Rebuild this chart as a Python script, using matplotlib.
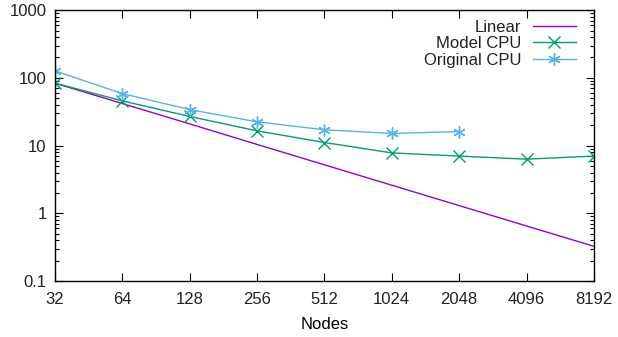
import matplotlib
matplotlib.use("Agg")
import matplotlib.pyplot as plt
from matplotlib.ticker import FixedLocator, FixedFormatter, LogLocator, NullFormatter, NullLocator

plt.rcParams["font.family"] = ["Liberation Sans", "DejaVu Sans"]
plt.rcParams["font.size"] = 12
plt.rcParams["text.color"] = "#222222"

# data
nodes = [32, 64, 128, 256, 512, 1024, 2048, 4096, 8192]
linear = [83.5, 41.75, 20.9, 10.4, 5.2, 2.6, 1.3, 0.65, 0.326]
model_cpu = [83.5, 45.7, 26.9, 16.5, 11.1, 7.8, 7.0, 6.3, 7.0]
orig_nodes = [32, 64, 128, 256, 512, 1024, 2048]
orig_cpu = [127, 58.5, 34, 22.4, 17.1, 15.1, 16.1]

x_labels = [str(n) for n in nodes]
y_ticks = [0.1, 1, 10, 100, 1000]
y_labels = ["0.1", "1", "10", "100", "1000"]

fig = plt.figure(figsize=(6.18, 3.37), dpi=100)
ax = fig.add_axes([0.089, 0.166, 0.872, 0.804])

ax.plot(nodes, linear, color="#9400d3", lw=1.0, label="Linear")
ax.plot(nodes, model_cpu, color="#009e73", lw=1.0, marker="x", ms=9,
        mew=1.0, label="Model CPU")
ax.plot(orig_nodes, orig_cpu, color="#56b4e9", lw=1.0, marker=(6, 2, 0), ms=9,
        mew=1.0, label="Original CPU")

ax.set_xscale("log", base=2)
ax.set_yscale("log")
ax.set_xlim(32, 8192)
ax.set_ylim(0.1, 1000)

ax.xaxis.set_major_locator(FixedLocator(nodes))
ax.xaxis.set_major_formatter(FixedFormatter(x_labels))
ax.xaxis.set_minor_locator(NullLocator())
ax.yaxis.set_major_locator(FixedLocator(y_ticks))
ax.yaxis.set_major_formatter(FixedFormatter(y_labels))
ax.yaxis.set_minor_locator(LogLocator(base=10, subs=range(2, 10)))
ax.yaxis.set_minor_formatter(NullFormatter())

ax.tick_params(which="both", direction="in", top=True, right=True, width=0.8,
               labelcolor="#222222")
ax.tick_params(which="major", length=6)
ax.tick_params(axis="x", which="major", pad=8)
ax.tick_params(axis="y", which="major", pad=6)
ax.tick_params(which="minor", length=3)
for s in ax.spines.values():
    s.set_linewidth(1.0)

ax.set_xlabel("Nodes", labelpad=7)

# gnuplot-style key: text right-aligned, sample on the right
leg = ax.legend(loc="upper right", frameon=False, markerfirst=False,
                handlelength=2.6, handletextpad=0.7, borderpad=0.0,
                borderaxespad=0.0, labelspacing=0.1,
                bbox_to_anchor=(0.967, 0.965))

fig.savefig("out.png", dpi=100)
